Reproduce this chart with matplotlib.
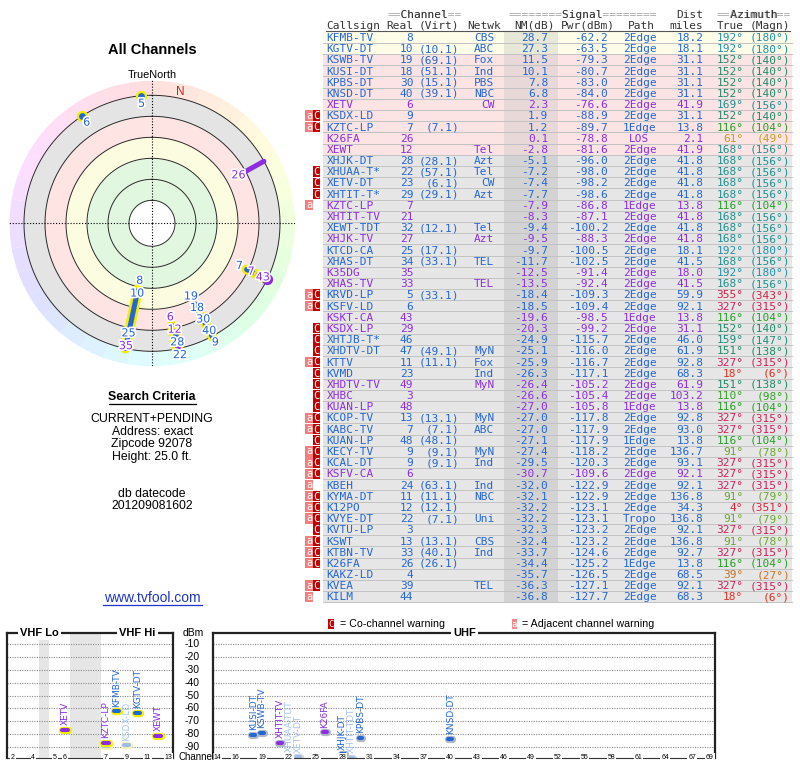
import numpy as np
import matplotlib

matplotlib.use("Agg")
import matplotlib.pyplot as plt
import matplotlib.patheffects as pe
from matplotlib.colors import hsv_to_rgb, to_rgb
from matplotlib.patches import Rectangle

# ---- station table ----
callsigns = [
    "KFMB-TV", "KGTV-DT", "KSWB-TV", "KUSI-DT", "KPBS-DT", "KNSD-DT", "XETV",
    "KSDX-LD", "KZTC-LP", "K26FA", "XEWT", "XHJK-DT", "XHUAA-T*", "XETV-DT",
    "XHTIT-T*", "KZTC-LP", "XHTIT-TV", "XEWT-TDT", "XHJK-TV", "KTCD-CA",
    "XHAS-DT", "K35DG", "XHAS-TV", "KRVD-LP", "KSFV-LD", "KSKT-CA", "KSDX-LP",
    "XHTJB-T*", "XHDTV-DT", "KTTV", "KVMD", "XHDTV-TV", "XHBC", "KUAN-LP",
    "KCOP-TV", "KABC-TV", "KUAN-LP", "KECY-TV", "KCAL-DT", "KSFV-CA", "KBEH",
    "KYMA-DT", "K12PO", "KVYE-DT", "KVTU-LP", "KSWT", "KTBN-TV", "K26FA",
    "KAKZ-LD", "KVEA", "KILM",
]
real_ch = [8, 10, 19, 18, 30, 40, 6, 9, 7, 26, 12, 28, 22, 23, 29, 7, 21, 32, 27,
           25, 34, 35, 33, 5, 6, 43, 29, 46, 47, 11, 23, 49, 3, 48, 13, 7, 48, 9,
           9, 6, 24, 11, 12, 22, 3, 13, 33, 26, 4, 39, 44]
virt_ch = ["", "10.1", "69.1", "51.1", "15.1", "39.1", "", "", "7.1", "", "",
           "28.1", "57.1", "6.1", "29.1", "", "", "12.1", "", "17.1", "33.1", "",
           "", "33.1", "", "", "", "", "49.1", "11.1", "", "", "", "", "13.1",
           "7.1", "48.1", "9.1", "9.1", "", "63.1", "11.1", "12.1", "7.1", "",
           "13.1", "40.1", "26.1", "", "", ""]
networks = ["CBS", "ABC", "Fox", "Ind", "PBS", "NBC", "CW", "", "", "", "Tel",
            "Azt", "Tel", "CW", "Azt", "", "", "Tel", "Azt", "", "TEL", "", "TEL",
            "", "", "", "", "", "MyN", "Fox", "Ind", "MyN", "", "", "MyN", "ABC",
            "", "MyN", "Ind", "", "Ind", "NBC", "", "Uni", "", "CBS", "Ind", "",
            "", "TEL", ""]
nm_db = [28.7, 27.3, 11.5, 10.1, 7.8, 6.8, 2.3, 1.9, 1.2, 0.1, -2.8, -5.1, -7.2,
         -7.4, -7.7, -7.9, -8.3, -9.4, -9.5, -9.7, -11.7, -12.5, -13.5, -18.4,
         -18.5, -19.6, -20.3, -24.9, -25.1, -25.9, -26.3, -26.4, -26.6, -27.0,
         -27.0, -27.0, -27.1, -27.4, -29.5, -30.7, -32.0, -32.1, -32.2, -32.2,
         -32.3, -32.4, -33.7, -34.4, -35.7, -36.3, -36.8]
pwr_dbm = [-62.2, -63.5, -79.3, -80.7, -83.0, -84.0, -76.6, -88.9, -89.7, -78.8,
           -81.6, -96.0, -98.0, -98.2, -98.6, -86.8, -87.1, -100.2, -88.3, -100.5,
           -102.5, -91.4, -92.4, -109.3, -109.4, -98.5, -99.2, -115.7, -116.0,
           -116.7, -117.1, -105.2, -105.4, -105.8, -117.8, -117.9, -117.9, -118.2,
           -120.3, -109.6, -122.9, -122.9, -123.1, -123.1, -123.2, -123.2, -124.6,
           -125.2, -126.5, -127.1, -127.7]
paths = ["2Edge"] * 51
for k, p in {8: "1Edge", 9: "LOS", 15: "1Edge", 25: "1Edge", 33: "1Edge",
             36: "1Edge", 43: "Tropo", 47: "1Edge"}.items():
    paths[k] = p
dist_mi = [18.2, 18.1, 31.1, 31.1, 31.1, 31.1, 41.9, 31.1, 13.8, 2.1, 41.9, 41.8,
           41.8, 41.8, 41.8, 13.8, 41.8, 41.8, 41.8, 18.1, 41.5, 18.0, 41.5, 59.9,
           92.1, 13.8, 31.1, 46.0, 61.9, 92.8, 68.3, 61.9, 103.2, 13.8, 92.8, 93.0,
           13.8, 136.7, 93.1, 92.1, 92.1, 136.8, 34.3, 136.8, 92.1, 136.8, 92.7,
           13.8, 68.5, 92.1, 68.3]
az_true = [192, 192, 152, 152, 152, 152, 169, 152, 116, 61, 168, 168, 168, 168,
           168, 116, 168, 168, 168, 192, 168, 192, 168, 355, 327, 116, 152, 159,
           151, 327, 18, 151, 110, 116, 327, 327, 116, 91, 327, 327, 327, 91, 4,
           91, 327, 91, 327, 116, 39, 327, 18]
az_magn = [180, 180, 140, 140, 140, 140, 156, 140, 104, 49, 156, 156, 156, 156,
           156, 104, 156, 156, 156, 180, 156, 180, 156, 343, 315, 104, 140, 147,
           138, 315, 6, 138, 98, 104, 315, 315, 104, 78, 315, 315, 315, 79, 351,
           79, 315, 78, 315, 104, 27, 315, 6]
kinds = list("DDDDDDADDAADDDDAADADDAADDAADDDDAAADDDDDADDDDDDDDDDD")  # D digital, A analog
warnings = ["", "", "", "", "", "", "", "aC", "aC", "", "", "", "C", "C", "C", "a",
            "", "", "", "", "", "", "", "aC", "aC", "", "C", "C", "C", "aC", "C",
            "C", "C", "C", "aC", "aC", "C", "aC", "aC", "aC", "a", "aC", "aC", "aC",
            "C", "aC", "aC", "aC", "", "aC", "a"]
long_names = {"XHUAA-T*": "XHUAA-TDT", "XHTIT-T*": "XHTIT-TDT", "XHTJB-T*": "XHTJB-TDT"}

ring_db = [60, 45, 30, 15, 0, -15]
vhf_ticks = [2, 4, 5, 6, 7, 9, 11, 13]
uhf_ticks = [14, 16] + list(range(19, 68, 3)) + [69]
dbm_ticks = list(range(-10, -100, -10))
search_lines = ["CURRENT+PENDING", "Address: exact", "Zipcode 92078", "Height: 25.0 ft."]
datecode = "201209081602"

# ---- style ----
MONO = "DejaVu Sans Mono"
SANS = "Liberation Sans"
BLUE = "#2466d4"
PURPLE = "#8c2ee0"
FADED = "#9cbce8"
n = len(callsigns)

AZ_ANCHORS = [0, 18, 39, 61, 91, 116, 152, 168, 192, 250, 327, 360]
AZ_COLORS = ["#d42040", "#e0301e", "#d07020", "#c89a20", "#68a830", "#24a024",
             "#1e8a6a", "#1e9090", "#2090a8", "#4060c0", "#d0205a", "#d42040"]


def az_color(a):
    rgb = np.array([to_rgb(c) for c in AZ_COLORS])
    return tuple(np.interp(a, AZ_ANCHORS, rgb[:, j]) for j in range(3))


fig = plt.figure(figsize=(8, 7.68), dpi=100)
page = fig.add_axes([0, 0, 1, 1])
page.set_xlim(0, 800)
page.set_ylim(768, 0)
page.axis("off")
page.set_zorder(5)

# ---- left column text ----
page.text(152, 50, "All Channels", ha="center", va="center", fontsize=10.5,
          weight="bold", family=SANS)
page.text(152, 74.5, "TrueNorth", ha="center", va="center", fontsize=7.8, family=SANS)
page.text(152, 397.5, "Search Criteria", ha="center", va="center", fontsize=8.8,
          weight="bold", family=SANS)
page.plot([108.5, 195.5], [404, 404], color="black", lw=0.9)
for k, line in enumerate(search_lines):
    page.text(152, 419.3 + 12.6 * k, line, ha="center", va="center", fontsize=8.8,
              family=SANS)
page.text(152, 494, "db datecode", ha="center", va="center", fontsize=8.8, family=SANS)
page.text(152, 506, datecode, ha="center", va="center", fontsize=8.8, family=SANS)
page.text(152, 598, "www.tvfool.com", ha="center", va="center", fontsize=10,
          family=SANS, color="#1f35c8")
page.plot([102.5, 201.5], [605, 605], color="#1f35c8", lw=0.9)

# ---- polar plot (radius = noise margin, strong at centre) ----
R_CENTER, R_EDGE, CLIP = 76.43, -25.71, -15
PX = 1 / 1.4
pax = fig.add_axes([9 / 800, 1 - 366.3 / 768, 286 / 800, 286 / 768], projection="polar")
pax.set_theta_zero_location("N")
pax.set_theta_direction(-1)
pax.set_ylim(R_CENTER, R_EDGE)
pax.axis("off")
theta = np.linspace(0, 2 * np.pi, 361)
for hi, lo, c in [(R_CENTER, 60, "white"), (60, 30, "#e1f7df"), (30, 15, "#fcfce1"),
                  (15, 0, "#ffe4e4"), (0, -15, "#e4e4e4")]:
    pax.fill_between(theta, lo, hi, color=c, lw=0)
for a0 in range(0, 360, 10):
    seg = np.deg2rad(np.linspace(a0, a0 + 10, 8))
    pax.fill_between(seg, R_EDGE, CLIP, color=hsv_to_rgb(((a0 + 5) / 360, 0.13, 1.0)),
                     lw=0)
for db in ring_db:
    pax.plot(theta, [db] * len(theta), color="#2a2a2a", lw=0.7)
for a in [0, 0.5 * np.pi, np.pi, 1.5 * np.pi]:
    pax.plot([a, a], [R_CENTER, R_EDGE], color="black", lw=0.8, ls=(0, (1, 1.6)))
decl = az_true[0] - az_magn[0]
pax.text(np.deg2rad(decl), -19.3, "N", color="#d42020", ha="center", va="center",
         fontsize=8.5, family=SANS)

shown = [i for i in range(n) if nm_db[i] >= -20]
halo = [pe.withStroke(linewidth=2.5, foreground="white")]
for i in shown:
    th = np.deg2rad(az_true[i])
    r0 = max(nm_db[i], CLIP)
    col = BLUE if kinds[i] == "D" else PURPLE
    vhf = real_ch[i] <= 13
    if r0 > CLIP:
        eff = [pe.Stroke(linewidth=7, foreground="#f2ee00"), pe.Normal()] if vhf else []
        pax.plot([th, th], [r0, CLIP], color=col, lw=3.6, solid_capstyle="round",
                 path_effects=eff)
    else:
        pax.plot([th], [CLIP], "o", ms=6.5, color=col,
                 mec="#f2ee00" if vhf else col, mew=1.6)

# stations within a few degrees share one stack of labels
groups = {}
for i in shown:
    groups.setdefault(int(round(az_true[i] / 4.0)), []).append(i)
for idx in groups.values():
    last = None
    for i in sorted(idx, key=lambda k: -nm_db[k]):
        r_lab = max(nm_db[i], CLIP) + 8 * PX
        if last is not None:
            r_lab = min(r_lab, last - 13 * PX)
        if r_lab < R_EDGE + 2 * PX:
            continue
        last = r_lab
        pax.text(np.deg2rad(az_true[i]), r_lab, str(real_ch[i]), ha="center",
                 va="center", fontsize=8, color=BLUE if kinds[i] == "D" else PURPLE,
                 path_effects=halo, zorder=6)

# ---- table ----
ROW0, ROW_H = 37.3, 11.19
X_LEFT, X_RIGHT = 323.3, 792
BASE = 3.7   # baseline offset below row centre


def mono(x, y, s, ha="left", color="#333333"):
    page.text(x, y + BASE, s, ha=ha, va="baseline", fontsize=8, family=MONO,
              color=color)


mono(387.3, 14.3, "==Channel==", color="#a8a8a8")
mono(387.3, 14.3, "  Channel  ")
mono(508.3, 14.3, "========Signal========", color="#a8a8a8")
mono(508.3, 14.3, "        Signal        ")
mono(703.3, 14.3, "Dist", ha="right")
mono(716.7, 14.3, "==Azimuth==", color="#a8a8a8")
mono(716.7, 14.3, "  Azimuth  ")
for x, s, ha in [(326.7, "Callsign", "left"), (413.3, "Real", "right"),
                 (459.3, "(Virt)", "right"), (501, "Netwk", "right"),
                 (555, "NM(dB)", "right"), (615, "Pwr(dBm)", "right"),
                 (655, "Path", "right"), (703.3, "miles", "right"),
                 (743.3, "True", "right"), (790, "(Magn)", "right")]:
    mono(x, 25, s, ha=ha)
page.plot([326, 790], [30.8, 30.8], color="#555555", lw=0.8)

for i in range(n):
    y = ROW0 + ROW_H * i
    if nm_db[i] >= 15:
        bg, nmbg = "#fefee8", "#e8e8d8"
    elif nm_db[i] > -3:
        bg, nmbg = "#fde4e4", "#e9d8d8"
    else:
        bg, nmbg = "#e6e6e6", "#d3d3d3"
    page.add_patch(Rectangle((X_LEFT, y - ROW_H / 2), X_RIGHT - X_LEFT, ROW_H,
                             fc=bg, ec="none"))
    page.add_patch(Rectangle((504, y - ROW_H / 2), 53.7, ROW_H, fc=nmbg, ec="none"))
    page.plot([X_LEFT, X_RIGHT], [y + ROW_H / 2] * 2, color="#c2c2c2", lw=0.7)
    if "a" in warnings[i]:
        page.add_patch(Rectangle((305, y - 5.2), 8.3, 10.4, fc="#f07f7f", ec="none"))
        page.text(309.2, y + 3.0, "a", ha="center", va="baseline", fontsize=7.5,
                  family=MONO, color="white")
    if "C" in warnings[i]:
        page.add_patch(Rectangle((313.3, y - 5.2), 6.9, 10.4, fc="#c40000", ec="none"))
        page.text(316.8, y + 3.6, "C", ha="center", va="baseline", fontsize=7.5,
                  family=MONO, color="white")
    col = BLUE if kinds[i] == "D" else PURPLE
    mono(326.7, y, callsigns[i], color=col)
    mono(413.3, y, str(real_ch[i]), ha="right", color=col)
    if virt_ch[i]:
        mono(459.3, y, f"({virt_ch[i]})", ha="right", color=col)
    mono(494.3, y, networks[i], ha="right", color=col)
    mono(548.3, y, f"{nm_db[i]:.1f}", ha="right", color=col)
    mono(608.3, y, f"{pwr_dbm[i]:.1f}", ha="right", color=col)
    mono(639.5, y, paths[i], ha="center", color=col)
    mono(703.3, y, f"{dist_mi[i]:.1f}", ha="right", color=col)
    ac = az_color(az_true[i])
    mono(743.3, y, f"{az_true[i]}°", ha="right", color=ac)
    mono(790, y, f"({az_magn[i]}°)", ha="right", color=ac)

# ---- legend ----
page.add_patch(Rectangle((328.3, 618.5), 5.6, 10.5, fc="#c40000", ec="none"))
page.text(331.1, 627.3, "C", ha="center", va="baseline", fontsize=6.5, family=MONO,
          color="white")
page.text(339.5, 624, "= Co-channel warning", ha="left", va="center", fontsize=7.7,
          family=SANS)
page.add_patch(Rectangle((511.7, 618.5), 5.6, 10.5, fc="#f08a8a", ec="none"))
page.text(514.5, 626.8, "a", ha="center", va="baseline", fontsize=6.5, family=MONO,
          color="white")
page.text(522.5, 624, "= Adjacent channel warning", ha="left", va="center",
          fontsize=7.7, family=SANS)

# ---- spectrum boxes ----
YLIM = (-98.6, -0.9)
VHF_CH = [2, 4, 5, 6, 7, 13]
VHF_PX = [6.0, 26.6, 48.3, 58.3, 99.3, 161.6]


def vhf_pos(ch):
    return np.interp(ch, VHF_CH, VHF_PX)


vax = fig.add_axes([6.7 / 800, 1 - 757.7 / 768, 166.6 / 800, 125 / 768])
vax.set_xlim(0, 166.6)
uax = fig.add_axes([212.7 / 800, 1 - 757.7 / 768, 502.3 / 800, 125 / 768])
uax.set_xlim(13.486, 69.56)
vax.axvspan(32.3, 42.3, color="#e6e6e6", lw=0)
vax.axvspan(63.3, 94.0, color="#e6e6e6", lw=0)
for ax in (vax, uax):
    ax.set_ylim(*YLIM)
    ax.set_xticks([])
    ax.set_yticks([])
    for v in dbm_ticks:
        ax.axhline(v, color="#8a8a8a", lw=0.8, ls=(0, (1, 1.2)))
    for side in ("left", "right", "top"):
        ax.spines[side].set_linewidth(1.6)
        ax.spines[side].set_color("#222222")
    ax.spines["bottom"].set_linewidth(0.8)
    ax.spines["bottom"].set_color("#333333")

tick_box = dict(fc="white", ec="none", pad=0.6)
for ch in vhf_ticks:
    vax.text(vhf_pos(ch), YLIM[0], str(ch), ha="center", va="center", fontsize=5,
             family=SANS, bbox=tick_box, clip_on=False, zorder=6)
for ch in uhf_ticks:
    uax.text(ch, YLIM[0], str(ch), ha="center", va="center", fontsize=5,
             family=SANS, bbox=tick_box, clip_on=False, zorder=6)
title_box = dict(fc="white", ec="none", pad=1.5)
for x, s in [(32.6, "VHF Lo"), (130.6, "VHF Hi")]:
    vax.text(x, YLIM[1], s, ha="center", va="center", fontsize=8, weight="bold",
             family=SANS, bbox=title_box, clip_on=False, zorder=6)
uax.text(0.502, 1.0, "UHF", transform=uax.transAxes, ha="center", va="center",
         fontsize=8, weight="bold", family=SANS, bbox=title_box, clip_on=False,
         zorder=6)
page.text(193, 633, "dBm", ha="center", va="center", fontsize=7.5, family=SANS)
for v in dbm_ticks:
    vax.text(1.068, v, str(v), transform=vax.get_yaxis_transform(), ha="left",
             va="center", fontsize=7.5, family=SANS, clip_on=False)
page.text(178.3, 757.5, "Channel", ha="left", va="center", fontsize=7, family=SANS)

on_band = [i for i in range(n) if nm_db[i] > -9]
order = sorted(on_band, key=lambda k: ("C" not in warnings[k], nm_db[k]))
for i in order:
    ch = real_ch[i]
    faded = "C" in warnings[i]
    if ch <= 13:
        ax, x, hw = vax, vhf_pos(ch), 2.6
        outline = "#f2f0b8" if faded else "#f2ee00"
    else:
        ax, x, hw = uax, ch, 0.2
        outline = "#d0d8e4" if faded else "#b0b8c8"
    col = FADED if faded else (BLUE if kinds[i] == "D" else PURPLE)
    ax.plot([x - hw, x + hw], [pwr_dbm[i], pwr_dbm[i]], color=col, lw=2.9,
            solid_capstyle="round",
            path_effects=[pe.Stroke(linewidth=5.2, foreground=outline), pe.Normal()])

labelled = set()
for i in sorted(on_band, key=lambda k: ("C" in warnings[k], -nm_db[k])):
    ch = real_ch[i]
    if ch in labelled:
        continue
    labelled.add(ch)
    faded = "C" in warnings[i]
    ax, x = (vax, vhf_pos(ch)) if ch <= 13 else (uax, ch)
    col = "#a8c4ee" if faded else (BLUE if kinds[i] == "D" else PURPLE)
    ax.text(x, pwr_dbm[i] + 3.6, long_names.get(callsigns[i], callsigns[i]),
            rotation=90, ha="center", va="bottom", fontsize=6.5, color=col)

fig.savefig("out.png", dpi=100)
